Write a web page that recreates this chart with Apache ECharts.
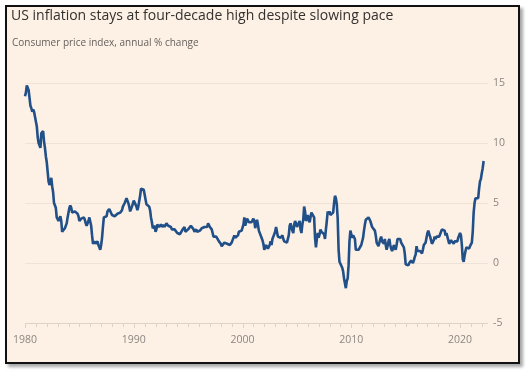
<!DOCTYPE html>
<html>
<head>
<meta charset="utf-8">
<script src="https://cdn.jsdelivr.net/npm/echarts@6/dist/echarts.min.js"></script>
<style>
  html, body { margin: 0; padding: 0; background: #ffffff; }
  .frame {
    position: absolute;
    left: 5px;
    top: 5px;
    width: 511px;
    height: 355px;
    border: 2px solid #111;
    box-shadow: 3px 3px 3px rgba(0, 0, 0, 0.35);
  }
  #chart { width: 511px; height: 355px; }
</style>
</head>
<body>
<div class="frame"><div id="chart"></div></div>
<script>
// CPI annual % change, monthly from Jan 1980
const startYear = 1980
const cpi1980s = [
  13.9, 14.2, 14.8, 14.7, 14.4, 14.4, 13.1, 12.9, 12.6, 12.8, 12.6, 12.5,
  11.8, 11.4, 10.5, 10.0, 9.8, 9.6, 10.8, 10.8, 11.0, 10.1, 9.6, 8.9,
  8.4, 7.6, 6.8, 6.5, 6.7, 7.1, 6.4, 5.9, 5.0, 5.1, 4.6, 3.8,
  3.7, 3.5, 3.6, 3.9, 3.5, 2.6, 2.5, 2.6, 2.9, 2.9, 3.3, 3.8,
  4.2, 4.6, 4.8, 4.6, 4.2, 4.2, 4.2, 4.3, 4.3, 4.3, 4.1, 3.9,
  3.5, 3.5, 3.7, 3.7, 3.8, 3.8, 3.6, 3.3, 3.1, 3.2, 3.5, 3.8,
  3.9, 3.1, 2.3, 1.6, 1.5, 1.8, 1.6, 1.6, 1.8, 1.5, 1.3, 1.1,
  1.5, 2.1, 3.0, 3.8, 3.9, 3.7, 3.9, 4.3, 4.4, 4.5, 4.5, 4.4,
  4.0, 3.9, 3.9, 3.9, 3.9, 4.0, 4.1, 4.0, 4.2, 4.2, 4.2, 4.4,
  4.7, 4.8, 5.0, 5.1, 5.4, 5.2, 5.0, 4.7, 4.3, 4.5, 4.7, 4.6
]
const cpi1990s = [
  5.2, 5.3, 5.2, 4.7, 4.4, 4.7, 4.8, 5.6, 6.2, 6.3, 6.3, 6.1,
  5.7, 5.3, 4.9, 4.9, 5.0, 4.7, 4.4, 3.8, 3.4, 2.9, 3.0, 3.1,
  2.6, 2.8, 3.2, 3.2, 3.0, 3.1, 3.2, 3.1, 3.0, 3.2, 3.0, 2.9,
  3.3, 3.2, 3.1, 3.2, 3.2, 3.0, 2.8, 2.8, 2.7, 2.8, 2.7, 2.7,
  2.5, 2.5, 2.5, 2.4, 2.3, 2.5, 2.8, 2.9, 3.0, 2.6, 2.7, 2.7,
  2.8, 2.9, 2.9, 3.1, 3.2, 3.0, 2.8, 2.6, 2.5, 2.8, 2.6, 2.5,
  2.7, 2.7, 2.8, 2.9, 2.9, 2.8, 3.0, 2.9, 3.0, 3.0, 3.3, 3.3,
  3.0, 3.0, 2.8, 2.5, 2.2, 2.3, 2.2, 2.2, 2.2, 2.1, 1.8, 1.7,
  1.6, 1.4, 1.4, 1.4, 1.7, 1.7, 1.7, 1.6, 1.5, 1.5, 1.5, 1.6,
  1.7, 1.6, 1.7, 2.3, 2.1, 2.0, 2.1, 2.3, 2.6, 2.6, 2.6, 2.7
]
const cpi2000s = [
  2.7, 3.2, 3.8, 3.1, 3.2, 3.7, 3.7, 3.4, 3.5, 3.4, 3.4, 3.4,
  3.7, 3.5, 2.9, 3.3, 3.6, 3.2, 2.7, 2.7, 2.6, 2.1, 1.9, 1.6,
  1.1, 1.1, 1.5, 1.6, 1.2, 1.1, 1.5, 1.8, 1.5, 2.0, 2.2, 2.4,
  2.6, 3.0, 3.0, 2.2, 2.1, 2.1, 2.1, 2.2, 2.3, 2.0, 1.8, 1.9,
  1.9, 1.7, 1.7, 2.3, 3.1, 3.3, 3.0, 2.7, 2.5, 3.2, 3.5, 3.3,
  3.0, 3.0, 3.1, 3.5, 2.8, 2.5, 3.2, 3.6, 4.7, 4.3, 3.5, 3.4,
  4.0, 3.6, 3.4, 3.5, 4.2, 4.3, 4.1, 3.8, 2.1, 1.3, 2.0, 2.5,
  2.1, 2.4, 2.8, 2.6, 2.7, 2.7, 2.4, 2.0, 2.8, 3.5, 4.3, 4.1,
  4.3, 4.0, 4.0, 3.9, 4.2, 5.0, 5.6, 5.4, 4.9, 3.7, 1.1, 0.1,
  0.0, 0.2, -0.4, -0.7, -1.3, -1.4, -2.1, -1.5, -1.3, -0.2, 1.8, 2.7
]
const cpi2010s = [
  2.6, 2.1, 2.3, 2.2, 2.0, 1.1, 1.2, 1.1, 1.1, 1.2, 1.1, 1.5,
  1.6, 2.1, 2.7, 3.2, 3.6, 3.6, 3.6, 3.8, 3.9, 3.5, 3.4, 3.0,
  2.9, 2.9, 2.7, 2.3, 1.7, 1.7, 1.4, 1.7, 2.0, 2.2, 1.8, 1.7,
  1.6, 2.0, 1.5, 1.1, 1.4, 1.8, 2.0, 1.5, 1.2, 1.0, 1.2, 1.5,
  1.6, 1.1, 1.5, 2.0, 2.1, 2.1, 2.0, 1.7, 1.7, 1.7, 1.3, 0.8,
  -0.1, 0.0, -0.1, -0.2, 0.0, 0.1, 0.2, 0.2, 0.0, 0.2, 0.5, 0.7,
  1.4, 1.0, 0.9, 1.1, 1.0, 1.0, 0.8, 1.1, 1.5, 1.6, 1.7, 2.1,
  2.5, 2.7, 2.4, 2.2, 1.9, 1.6, 1.7, 1.9, 2.2, 2.0, 2.2, 2.1,
  2.1, 2.2, 2.4, 2.5, 2.8, 2.9, 2.9, 2.7, 2.3, 2.5, 2.2, 1.9,
  1.6, 1.5, 1.9, 2.0, 1.8, 1.6, 1.8, 1.7, 1.7, 1.8, 2.1, 2.3
]
const cpi2020s = [
  2.5, 2.3, 1.5, 0.3, 0.1, 0.6, 1.0, 1.3, 1.4, 1.2, 1.2, 1.4,
  1.4, 1.7, 2.6, 4.2, 5.0, 5.4, 5.4, 5.3, 5.4, 6.2, 6.8, 7.0,
  7.5, 7.9, 8.5
]
const yTicks = [-5, 0, 5, 10, 15]
const xTicks = [1980, 1990, 2000, 2010, 2020]

const values = [].concat(cpi1980s, cpi1990s, cpi2000s, cpi2010s, cpi2020s)
const points = values.map((v, i) => [startYear + i / 12, v])

const labelColor = '#8c8680'
const chart = echarts.init(document.getElementById('chart'))

chart.setOption({
  backgroundColor: '#fdf1e6',
  animation: false,
  title: [
    {
      text: 'US inflation stays at four-decade high despite slowing pace',
      left: 4,
      top: 2,
      padding: 0,
      textStyle: {
        fontFamily: 'Open Sans',
        fontSize: 14,
        fontWeight: 'normal',
        color: '#33302e'
      }
    },
    {
      text: 'Consumer price index, annual % change',
      left: 5,
      top: 31,
      padding: 0,
      textStyle: {
        fontFamily: 'Open Sans',
        fontSize: 10,
        fontWeight: 'normal',
        color: '#66605b'
      }
    }
  ],
  grid: { left: 18, right: 30, top: 76, bottom: 39 },
  xAxis: {
    type: 'value',
    min: 1980,
    max: 2022.57,
    interval: 10,
    axisLine: { show: false },
    axisTick: { show: false },
    minorTick: { show: false },
    splitLine: { show: false },
    axisLabel: {
      color: labelColor,
      fontFamily: 'Open Sans',
      fontSize: 10.5,
      margin: 12,
      showMaxLabel: false,
      formatter: (v) => (xTicks.includes(v) ? String(v) : '')
    }
  },
  yAxis: {
    type: 'value',
    position: 'right',
    min: -5,
    max: 15,
    interval: 5,
    axisLine: { show: false },
    axisTick: { show: false },
    splitLine: { lineStyle: { color: '#efe3d7', width: 1 } },
    axisLabel: {
      color: labelColor,
      fontFamily: 'Open Sans',
      fontSize: 10.5,
      margin: 5,
      formatter: (v) => (yTicks.includes(v) ? String(v) : '')
    }
  },
  series: [
    {
      // baseline along the bottom
      type: 'line',
      silent: true,
      symbol: 'none',
      data: [],
      markLine: {
        silent: true,
        symbol: 'none',
        label: { show: false },
        lineStyle: { color: '#ddd2c7', width: 1, type: 'solid' },
        data: [[{ coord: [1980, -5] }, { coord: [2022.57, -5] }]]
      }
    },
    {
      type: 'line',
      data: points,
      symbol: 'none',
      lineStyle: { color: '#214f88', width: 2.6 },
      z: 5
    }
  ]
})

// small yearly ticks below the axis
const tickYears = []
for (let y = 1980; y <= 2022; y++) tickYears.push(y)
const base = chart.convertToPixel({ gridIndex: 0 }, [1980, -5])
chart.setOption({
  graphic: tickYears.map((y) => {
    const p = chart.convertToPixel({ gridIndex: 0 }, [y, -5])
    return {
      type: 'line',
      silent: true,
      shape: { x1: Math.round(p[0]) + 0.5, y1: base[1], x2: Math.round(p[0]) + 0.5, y2: base[1] + (y % 10 === 0 ? 5 : 4) },
      style: { stroke: '#ddd2c7', lineWidth: 1 }
    }
  })
})
</script>
</body>
</html>
